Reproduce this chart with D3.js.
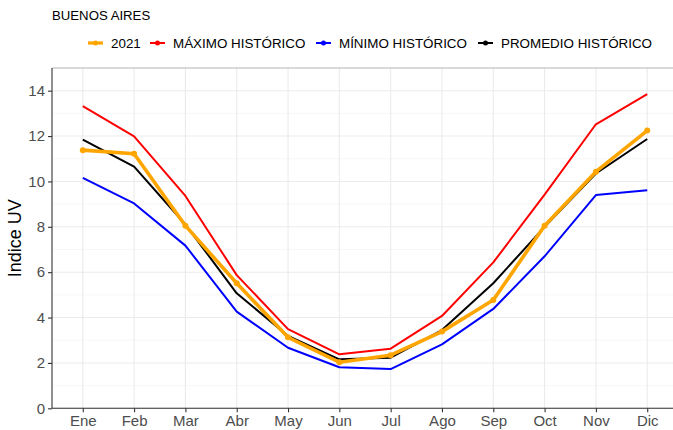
<!DOCTYPE html>
<html><head><meta charset="utf-8">
<script src="https://cdn.jsdelivr.net/npm/d3@7"></script>
<style>body{margin:0;background:#fff}svg{display:block;font-family:"Liberation Sans",Arial,sans-serif}</style>
</head><body><svg id="c" width="673" height="430"></svg>
<script>
const months = ["Ene","Feb","Mar","Abr","May","Jun","Jul","Ago","Sep","Oct","Nov","Dic"];
const yTicks = [0,2,4,6,8,10,12,14];
const seriesNames = ["2021","MÁXIMO HISTÓRICO","MÍNIMO HISTÓRICO","PROMEDIO HISTÓRICO"];
const seriesColors = ["#FFA500","#FF0000","#0000FF","#000000"];
const v2021     = [11.38,11.22,8.05,5.51,3.13,2.03,2.34,3.38,4.77,8.05,10.43,12.24];
const vMax      = [13.32,11.99,9.36,5.87,3.49,2.38,2.63,4.07,6.43,9.42,12.52,13.85];
const vMin      = [10.16,9.03,7.17,4.26,2.67,1.81,1.73,2.82,4.38,6.70,9.40,9.61];
const vProm     = [11.84,10.65,8.10,5.07,3.19,2.16,2.23,3.45,5.51,8.00,10.35,11.87];
const title = "BUENOS AIRES";
const yTitle = "Indice UV";

const svg = d3.select("#c");
const x0 = 52, x1 = 678, yTop = 68, yBot = 408.3;
const x = d3.scalePoint().domain(months).range([x0, x1]).padding(0.6);
const y = d3.scaleLinear().domain([0,15]).range([yBot, yTop]);

const g = svg.append("g");
// minor grid
g.selectAll(".ymin").data(d3.range(1,15,2)).enter().append("line")
  .attr("x1",x0).attr("x2",x1).attr("y1",d=>y(d)).attr("y2",d=>y(d))
  .attr("stroke","#f2f2f2").attr("stroke-width",0.6);
// major grid
g.selectAll(".ymaj").data(yTicks).enter().append("line")
  .attr("x1",x0).attr("x2",x1).attr("y1",d=>y(d)).attr("y2",d=>y(d))
  .attr("stroke","#ebebeb").attr("stroke-width",1.1);
g.selectAll(".xmaj").data(months).enter().append("line")
  .attr("x1",d=>x(d)).attr("x2",d=>x(d)).attr("y1",yTop).attr("y2",yBot)
  .attr("stroke","#ebebeb").attr("stroke-width",1.1);
// top border
g.append("line").attr("x1",x0).attr("x2",x1).attr("y1",yTop).attr("y2",yTop)
  .attr("stroke","#b3b3b3").attr("stroke-width",1.2);

// axes
const xAxis = d3.axisBottom(x).tickSize(4).tickPadding(3);
const yAxis = d3.axisLeft(y).tickValues(yTicks).tickSize(4).tickPadding(3);
const gx = svg.append("g").attr("transform",`translate(0,${yBot})`).call(xAxis);
const gy = svg.append("g").attr("transform",`translate(${x0},0)`).call(yAxis);
[gx,gy].forEach(a=>{
  a.select(".domain").attr("stroke","#333").attr("stroke-width",1.1);
  a.selectAll(".tick line").attr("stroke","#333").attr("stroke-width",1.1);
  a.selectAll(".tick text").attr("fill","#4d4d4d").style("font-size","15px");
});
gx.select(".domain").attr("d",`M${x0},0H${x1}`);
gy.select(".domain").attr("d",`M0,${yBot}V${yTop}`);

svg.append("text").attr("transform",`translate(21,${(yTop+yBot)/2}) rotate(-90)`)
  .attr("text-anchor","middle").style("font-size","18px").attr("fill","#000").text(yTitle);

// lines
const data = [v2021, vMax, vMin, vProm];
const order = [1,2,3,0];
const line = d3.line().x((d,i)=>x(months[i])).y(d=>y(d));
order.forEach(k=>{
  svg.append("path").datum(data[k]).attr("d",line).attr("fill","none")
    .attr("stroke",seriesColors[k]).attr("stroke-width",k===0?3.6:2)
    .attr("stroke-linejoin","round");
  if(k===0){
    svg.selectAll(".pt").data(data[k]).enter().append("circle")
      .attr("cx",(d,i)=>x(months[i])).attr("cy",d=>y(d)).attr("r",3)
      .attr("fill",seriesColors[k]);
  }
});

// title
svg.append("text").attr("x",52).attr("y",20).style("font-size","13.2px").attr("fill","#000").text(title);

// legend
const legX = [88,150,316,478];
const lg = svg.append("g");
seriesNames.forEach((n,i)=>{
  const gx2 = lg.append("g").attr("transform",`translate(${legX[i]},43)`);
  gx2.append("line").attr("x1",0).attr("x2",15).attr("stroke",seriesColors[i]).attr("stroke-width",i===0?3.2:2);
  gx2.append("circle").attr("cx",7.5).attr("r",2.5).attr("fill",seriesColors[i]);
  gx2.append("text").attr("x",23).attr("y",5).style("font-size","13.4px").attr("fill","#000").text(n);
});
</script></body></html>
